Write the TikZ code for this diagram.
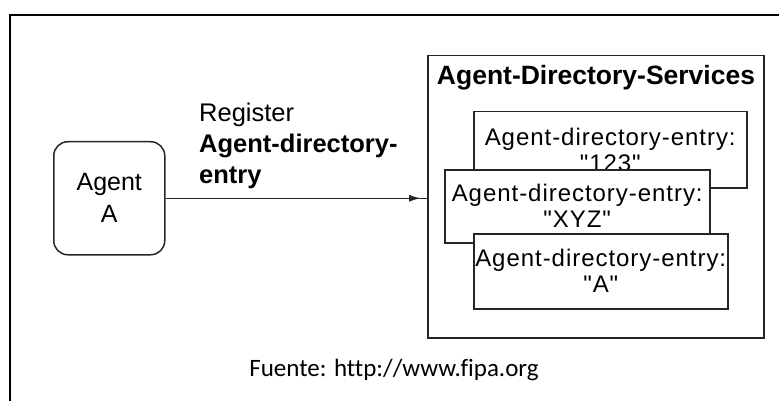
\documentclass[tikz,border=0pt]{standalone}
\usepackage{fontspec}
\setmainfont{Liberation Sans}
\newfontfamily\calib[Ligatures=NoCommon]{Carlito}
\newfontfamily\entryfont[LetterSpace=4]{Liberation Sans}
\usetikzlibrary{arrows.meta,decorations.markings}
\tikzset{
  ln/.style={line width=1.5pt, draw=black!85},
  boxst/.style={ln, rectangle, fill=white, inner sep=0pt, anchor=north west},
  entrybox/.style={boxst, align=center, font=\entryfont\fontsize{24}{26}\selectfont},
  arrmark/.style={postaction={decorate}, decoration={markings,
     mark=at position -6pt with {\arrow{Latex[length=12pt,width=7pt]}}}}
}
\begin{document}
\begin{tikzpicture}[x=1pt,y=-1pt]
\useasboundingbox (0,0) rectangle (779,401);
% outer frame
\draw[line width=1.6pt] (10,401) -- (10,15) -- (779,15);
% services container
\node[boxst, minimum width=336, minimum height=282] (svc) at (427,55) {};
\node[font=\bfseries\fontsize{26.5}{28}\selectfont] (title) at (596,78) {Agent-Directory-Services};
% entries
\node[entrybox, minimum width=273, minimum height=76] (e123) at (473,111) {Agent-directory-entry:\\"123"};
\node[entrybox, minimum width=265, minimum height=73] (exyz) at (444,169) {Agent-directory-entry:\\"XYZ"};
\node[entrybox, minimum width=254, minimum height=75] (ea) at (473,233) {Agent-directory-entry:\\"A"};
% agent
\node[ln, rectangle, rounded corners=14pt, minimum width=111, minimum height=113, anchor=north west,
      align=center, font=\fontsize{25}{32}\selectfont] (agent) at (53,141) {Agent\\A};
% connector
\coordinate (tip) at (agent.east -| svc.west);
\draw[ln, arrmark] (agent.east) -- (tip);
\node[anchor=north west, align=left, inner sep=0pt, font=\fontsize{25.5}{31}\selectfont] (lbl) at (199,103)
  {Register\\\textbf{Agent-directory-}\\\textbf{entry}};
% source
\node[font=\calib\fontsize{25}{28}\selectfont] (src) at (394,370) {Fuente: http://www.fipa.org};
\end{tikzpicture}
\end{document}
